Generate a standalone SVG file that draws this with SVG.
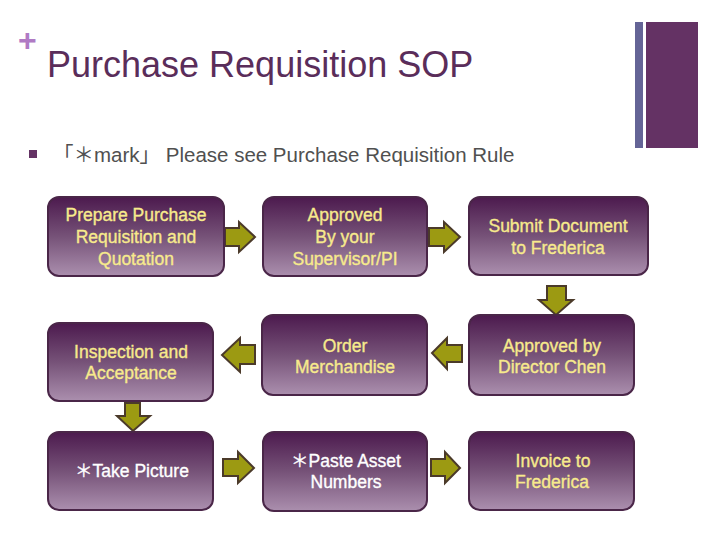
<svg xmlns="http://www.w3.org/2000/svg" width="720" height="540" viewBox="0 0 720 540">
<defs>
<linearGradient id="g" x1="0" y1="0" x2="0" y2="1">
<stop offset="0" stop-color="#4c1a4e"/>
<stop offset="0.5" stop-color="#765278"/>
<stop offset="1" stop-color="#ab8fae"/>
</linearGradient>
<style>
.box{fill:url(#g);stroke:#4a2648;stroke-width:2}
.t{font-family:"Liberation Sans","Noto Sans CJK SC",sans-serif;font-size:17.5px;text-anchor:middle;fill:#f7ea8c;stroke:#f7ea8c;stroke-width:0.35}
.w{fill:#ffffff;stroke:#ffffff}
.arr{fill:#9c9a12;stroke:#4b3a2a;stroke-width:2;stroke-linejoin:miter}
</style>
</defs>
<rect width="720" height="540" fill="#ffffff"/>
<g id="decor">
<rect x="635" y="22" width="8" height="126" fill="#646496"/>
<rect x="646" y="22" width="52" height="126" fill="#643264"/>
<text x="18" y="51" font-family="'Liberation Sans',sans-serif" font-size="32" font-weight="bold" fill="#b07ac4">+</text>
</g>
<g id="title">
<text x="47" y="77" font-family="'Liberation Sans',sans-serif" font-size="36" fill="#5a2d5a">Purchase Requisition SOP</text>
</g>
<g id="bullet">
<rect x="29" y="150" width="8" height="8" fill="#643264"/>
<text x="53" y="162" font-family="'Liberation Sans','Noto Sans CJK SC',sans-serif" font-size="20.5" fill="#505050">「＊mark」 Please see Purchase Requisition Rule</text>
</g>
<g id="connectors">
<polygon class="arr" points="225,228 239,228 239,222 255,237 239,252 239,246 225,246"/>
<polygon class="arr" points="429,228 444,228 444,222 460,237 444,252 444,246 429,246"/>
<polygon class="arr" points="547,286 566,286 566,300 573,300 556,315 539,300 547,300"/>
<polygon class="arr" points="462,345 447,345 447,338 432,353 447,369 447,362 462,362"/>
<polygon class="arr" points="255,345 240,345 240,338 222,355 240,372 240,364 255,364"/>
<polygon class="arr" points="125,403 140,403 140,416 150,416 133,431 117,416 125,416"/>
<polygon class="arr" points="223,459 238,459 238,452 254,468 238,483 238,476 223,476"/>
<polygon class="arr" points="431,459 445,459 445,452 460,468 445,483 445,476 431,476"/>
</g>
<g id="n1"><rect class="box" x="48" y="197" width="176" height="79" rx="11"/>
<text class="t" x="136" y="221">Prepare Purchase</text><text class="t" x="136" y="243">Requisition and</text><text class="t" x="136" y="265">Quotation</text></g>
<g id="n2"><rect class="box" x="263" y="197" width="164" height="79" rx="11"/>
<text class="t" x="345" y="221">Approved</text><text class="t" x="345" y="243">By your</text><text class="t" x="345" y="265">Supervisor/PI</text></g>
<g id="n3"><rect class="box" x="469" y="197" width="179" height="78" rx="11"/>
<text class="t" x="558" y="232">Submit Document</text><text class="t" x="558" y="254">to Frederica</text></g>
<g id="n4"><rect class="box" x="48" y="323" width="165" height="78" rx="11"/>
<text class="t" x="131" y="358">Inspection and</text><text class="t" x="131" y="379">Acceptance</text></g>
<g id="n5"><rect class="box" x="262" y="315" width="165" height="80" rx="11"/>
<text class="t" x="345" y="352">Order</text><text class="t" x="345" y="373">Merchandise</text></g>
<g id="n6"><rect class="box" x="469" y="315" width="165" height="80" rx="11"/>
<text class="t" x="552" y="352">Approved by</text><text class="t" x="552" y="373">Director Chen</text></g>
<g id="n7"><rect class="box" x="48" y="432" width="165" height="78" rx="11"/>
<text class="t w" x="132" y="477">＊Take Picture</text></g>
<g id="n8"><rect class="box" x="263" y="432" width="164" height="79" rx="11"/>
<text class="t w" x="346" y="467">＊Paste Asset</text><text class="t w" x="346" y="488">Numbers</text></g>
<g id="n9"><rect class="box" x="469" y="432" width="165" height="78" rx="11"/>
<text class="t" x="553" y="467">Invoice to</text><text class="t" x="552" y="488">Frederica</text></g>
</svg>
